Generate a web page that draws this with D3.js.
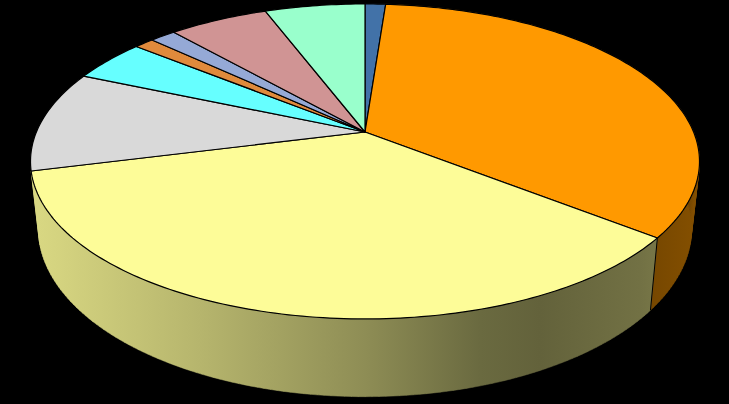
<!DOCTYPE html>
<html><head><meta charset="utf-8">
<script src="https://cdn.jsdelivr.net/npm/d3@7"></script>
<style>html,body{margin:0;padding:0;background:#000}svg{display:block}</style>
</head><body><svg id="c" width="729" height="404"></svg>
<script>
const categories = ["A","B","C","D","E","F","G","H","I"];
const values = [1.19,34.4,35.5,10.4,4.36,1.14,1.5,5.75,5.8];
const colors = ["#4272a8","#ff9900","#fdfc98","#d9d9d9","#66ffff","#e08a3c","#95a9d6","#d09494","#99ffcc"];
const shadeX = [30,200,365,480,540,640,700];
const shadeK = [0.86,0.72,0.56,0.42,0.39,0.45,0.52];

const W=729,H=404, K=0.187, STEP=Math.PI/180;
const topFace={cx:365,cy:132,rx:328.6,ry:152};
const botFace={cx:365,cy:197.4,rx:320.8,ry:162};
const project=(f,a)=>{const u=Math.sin(a),v=Math.cos(a),w=1+K*v;return [f.cx+f.rx*u/w,f.cy-f.ry*v/w];};
const pie=d3.pie().sort(null).value(d=>d).startAngle(0).endAngle(2*Math.PI);
const arcs=pie(values);
const line=d3.line();
const svg=d3.select("#c");
svg.append("rect").attr("width",W).attr("height",H).attr("fill","#000");
const defs=svg.append("defs");
const stopScale=d3.scaleLinear().domain([30,700]).range([0,1]);
const samples=a=>{const n=Math.max(1,Math.ceil((a.endAngle-a.startAngle)/STEP));return d3.range(n+1).map(i=>a.startAngle+(a.endAngle-a.startAngle)*i/n);};
const visible=arcs.filter(a=>a.startAngle<Math.PI);

visible.forEach(a=>{
  const g=defs.append("linearGradient").attr("id","w"+a.index).attr("gradientUnits","userSpaceOnUse")
    .attr("x1",30).attr("x2",700).attr("y1",0).attr("y2",0);
  const col=d3.rgb(colors[a.index]);
  shadeX.forEach((x,j)=>g.append("stop").attr("offset",stopScale(x))
    .attr("stop-color",d3.rgb(col.r*shadeK[j],col.g*shadeK[j],col.b*shadeK[j]).formatHex()));
});
// walls
visible.forEach(a=>{
  const s=samples(a);let d="";
  for(let j=0;j<s.length-1;j++){
    d+=line([project(topFace,s[j]),project(topFace,s[j+1]),project(botFace,s[j+1]),project(botFace,s[j])])+"Z";
  }
  svg.append("path").attr("d",d).attr("fill","url(#w"+a.index+")").attr("stroke","url(#w"+a.index+")").attr("stroke-width",0.5);
});
// wall dividers
visible.forEach(a=>{
  svg.append("path").attr("d",line([project(topFace,a.startAngle),project(botFace,a.startAngle)]))
    .attr("stroke","#000").attr("stroke-width",1).attr("fill","none");
});
// top faces
arcs.forEach((a,i)=>{
  const pts=[[topFace.cx,topFace.cy]].concat(samples(a).map(t=>project(topFace,t)));
  svg.append("path").attr("d",line(pts)+"Z").attr("fill",colors[i])
    .attr("stroke","#000").attr("stroke-width",1.2).attr("stroke-linejoin","round");
});
</script></body></html>
